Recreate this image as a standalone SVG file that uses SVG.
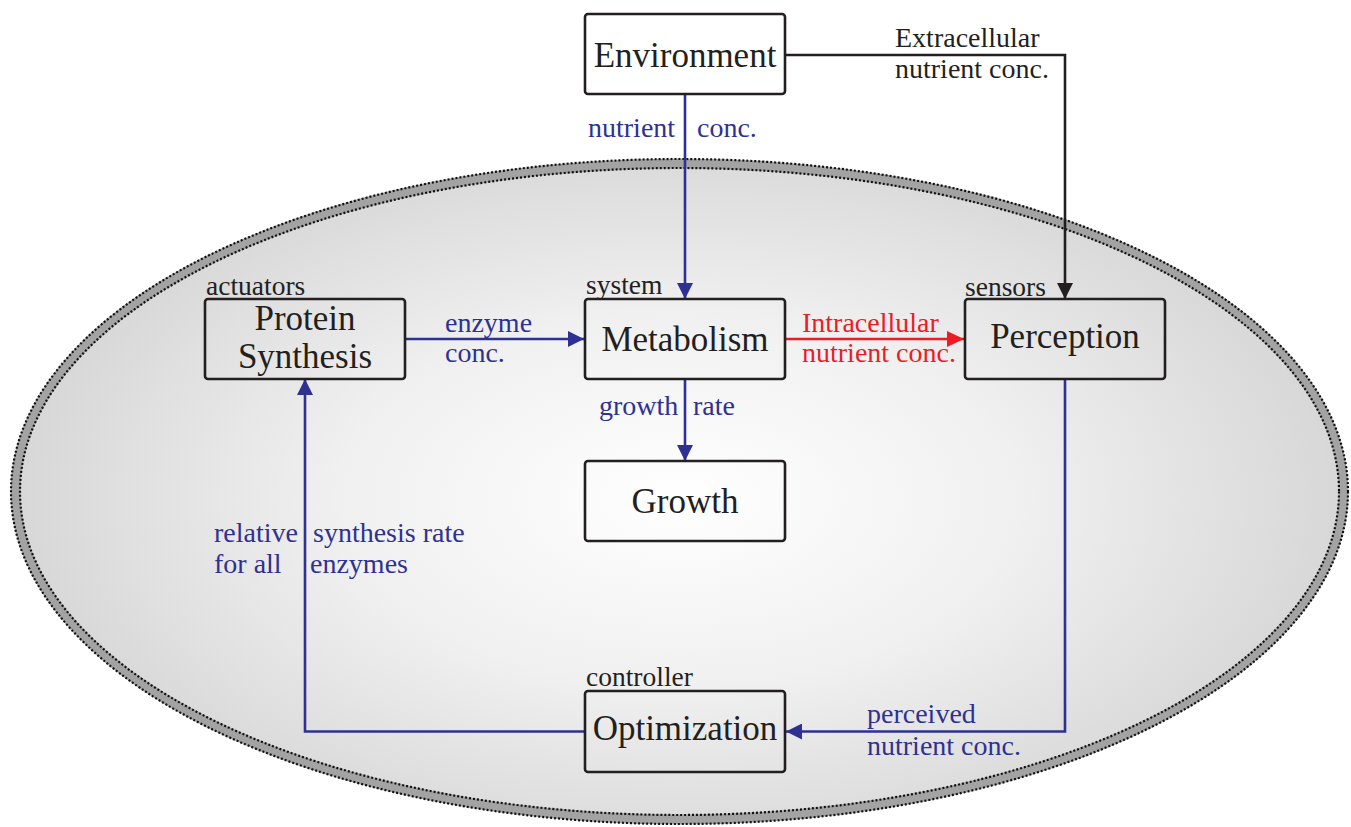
<svg xmlns="http://www.w3.org/2000/svg" width="1351" height="827" viewBox="0 0 1351 827">
<defs>
<radialGradient id="cellGrad" cx="679.5" cy="500" r="680" gradientUnits="userSpaceOnUse" gradientTransform="translate(0 500) scale(1 0.55) translate(0 -500)">
<stop offset="0" stop-color="#ffffff"/>
<stop offset="0.5" stop-color="#f0f0f0"/>
<stop offset="1" stop-color="#d6d6d6"/>
</radialGradient>
<marker id="arrBlue" viewBox="0 0 16 16" refX="16" refY="8" markerWidth="16" markerHeight="16" markerUnits="userSpaceOnUse" orient="auto">
<path d="M0,0 L16,8 L0,16 Z" fill="#2e3192"/>
</marker>
<marker id="arrRed" viewBox="0 0 17 16" refX="17" refY="8" markerWidth="17" markerHeight="16" markerUnits="userSpaceOnUse" orient="auto">
<path d="M0,0 L17,8 L0,16 Z" fill="#ed1c24"/>
</marker>
<marker id="arrBlack" viewBox="0 0 16 16" refX="16" refY="8" markerWidth="16" markerHeight="16" markerUnits="userSpaceOnUse" orient="auto">
<path d="M0,0 L16,8 L0,16 Z" fill="#231f20"/>
</marker>
</defs>
<style>
.box{fill:none;stroke:#231f20;stroke-width:2.6}
.main{font-family:"Liberation Serif","Times New Roman",serif;font-size:35px;fill:#231f20;text-anchor:middle}
.role{font-family:"Liberation Serif","Times New Roman",serif;font-size:27.5px;fill:#231f20}
.lbl{font-family:"Liberation Serif","Times New Roman",serif;font-size:28px}
.blue{fill:#2e3192}
.red{fill:#ed1c24}
.blk{fill:#231f20}
.cb{fill:none;stroke:#2e3192;stroke-width:2.6}
.cr{fill:none;stroke:#ed1c24;stroke-width:2.6}
.ck{fill:none;stroke:#231f20;stroke-width:2.6}
.dots{fill:none;stroke:#111;stroke-width:2.2;stroke-dasharray:2 2}
</style>
<rect x="0" y="0" width="1351" height="827" fill="#ffffff"/>
<g id="cell">
<ellipse cx="679.5" cy="491.5" rx="664" ry="328" fill="url(#cellGrad)" stroke="#a3a3a3" stroke-width="10"/>
<ellipse class="dots" cx="679.5" cy="491.5" rx="668.5" ry="332.5"/>
<ellipse class="dots" cx="679.5" cy="491.5" rx="659.5" ry="323.5"/>
</g>
<g id="connectors">
<path class="cb" d="M685,95 V299" marker-end="url(#arrBlue)"/>
<path class="ck" d="M786,55 H1065 V299" marker-end="url(#arrBlack)"/>
<path class="cb" d="M406,339 H584" marker-end="url(#arrBlue)"/>
<path class="cr" d="M786,339 H964" marker-end="url(#arrRed)"/>
<path class="cb" d="M685,379 V461" marker-end="url(#arrBlue)"/>
<path class="cb" d="M1065,379 V731.5 H786" marker-end="url(#arrBlue)"/>
<path class="cb" d="M584,731.5 H305 V379" marker-end="url(#arrBlue)"/>
<text class="lbl blue" x="588" y="137">nutrient</text>
<text class="lbl blue" x="697" y="137">conc.</text>
<text class="lbl blk" x="895" y="47">Extracellular</text>
<text class="lbl blk" x="895" y="78">nutrient conc.</text>
<text class="lbl blue" x="445" y="332">enzyme</text>
<text class="lbl blue" x="445" y="362">conc.</text>
<text class="lbl red" x="802" y="332">Intracellular</text>
<text class="lbl red" x="802" y="362">nutrient conc.</text>
<text class="lbl blue" x="599" y="415">growth</text>
<text class="lbl blue" x="693" y="415">rate</text>
<text class="lbl blue" x="214" y="542">relative</text>
<text class="lbl blue" x="214" y="573">for all</text>
<text class="lbl blue" x="313" y="542">synthesis rate</text>
<text class="lbl blue" x="310" y="573">enzymes</text>
<text class="lbl blue" x="867" y="723">perceived</text>
<text class="lbl blue" x="867" y="755">nutrient conc.</text>
</g>
<g id="environment">
<rect x="585" y="14" width="200" height="80" rx="3" fill="#ffffff" stroke="#231f20" stroke-width="2.6"/>
<text class="main" x="685" y="67">Environment</text>
</g>
<g id="protein-synthesis">
<text class="role" x="206" y="295">actuators</text>
<rect class="box" x="205" y="299" width="200" height="80" rx="3"/>
<text class="main" x="305" y="330">Protein</text>
<text class="main" x="305" y="368">Synthesis</text>
</g>
<g id="metabolism">
<text class="role" x="586" y="294">system</text>
<rect class="box" x="585" y="299" width="200" height="80" rx="3"/>
<text class="main" x="685" y="351">Metabolism</text>
</g>
<g id="perception">
<text class="role" x="965" y="296">sensors</text>
<rect class="box" x="965" y="299" width="200" height="80" rx="3"/>
<text class="main" x="1065" y="348">Perception</text>
</g>
<g id="growth">
<rect class="box" x="585" y="461" width="200" height="80" rx="3"/>
<text class="main" x="685" y="513">Growth</text>
</g>
<g id="optimization">
<text class="role" x="586" y="686">controller</text>
<rect class="box" x="585" y="691" width="200" height="81" rx="3"/>
<text class="main" x="685" y="740">Optimization</text>
</g>
</svg>
